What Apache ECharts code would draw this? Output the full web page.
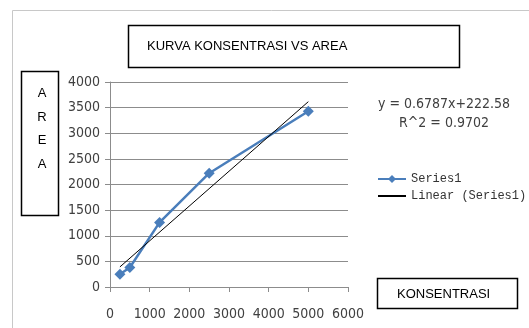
<!DOCTYPE html>
<html>
<head>
<meta charset="utf-8">
<script src="https://cdn.jsdelivr.net/npm/echarts@6/dist/echarts.min.js"></script>
<style>
  html, body { margin: 0; padding: 0; background: #fff; }
  #chart { width: 529px; height: 328px; }
</style>
</head>
<body>
<div id="chart"></div>
<script>
// measured points (konsentrasi vs area)
const konsentrasi = [250, 500, 1250, 2500, 5000];
const area = [250, 380, 1260, 2220, 3430];
// linear trendline end points
const trendX = [250, 5000];
const trendY = [392, 3616];
const equationText = "y = 0.6787x+222.58";
const r2Text = "R^2 = 0.9702";

const boxFont = "Liberation Sans";
const numFont = "DejaVu Sans Condensed";

const myChart = echarts.init(document.getElementById("chart"));

const option = {
  animation: false,
  backgroundColor: "#fff",
  grid: { left: 110, right: 181, top: 82, bottom: 41 },
  legend: {
    orient: "vertical",
    left: 372,
    top: 168,
    itemWidth: 28,
    itemHeight: 10,
    itemGap: 5,
    textStyle: { fontFamily: "Liberation Mono", fontSize: 12, color: "#333" },
    data: ["Series1", { name: "Linear (Series1)", itemStyle: { opacity: 0 } }],
  },
  xAxis: {
    type: "value",
    min: 0,
    max: 6000,
    interval: 1000,
    axisLine: { lineStyle: { color: "#8c8c8c" } },
    axisTick: { show: true, length: 5, lineStyle: { color: "#8c8c8c" } },
    axisLabel: { color: "#404040", fontFamily: numFont, fontSize: 14, margin: 20, formatter: (v) => String(v) },
    splitLine: { show: false },
  },
  yAxis: {
    type: "value",
    min: 0,
    max: 4000,
    interval: 500,
    axisLine: { show: true, lineStyle: { color: "#8c8c8c" } },
    axisTick: { show: true, length: 5, lineStyle: { color: "#8c8c8c" } },
    axisLabel: { color: "#404040", fontFamily: numFont, fontSize: 14, margin: 10, formatter: (v) => String(v) },
    splitLine: { lineStyle: { color: "#8c8c8c" } },
  },
  series: [
    {
      name: "Series1",
      type: "line",
      symbol: "diamond",
      symbolSize: 11,
      lineStyle: { color: "#4a7ebb", width: 2.5 },
      itemStyle: { color: "#4a7ebb" },
      data: konsentrasi.map((x, i) => [x, area[i]]),
    },
    {
      name: "Linear (Series1)",
      type: "line",
      symbol: "none",
      lineStyle: { color: "#000", width: 1 },
      itemStyle: { color: "#000" },
      data: trendX.map((x, i) => [x, trendY[i]]),
    },
  ],
  graphic: [
    {
      type: "rect",
      shape: { x: 12.5, y: 10.5, width: 600, height: 400 },
      style: { fill: "none", stroke: "#c8c8c8", lineWidth: 1 },
    },
    {
      type: "rect",
      shape: { x: 128.5, y: 25.5, width: 331, height: 42 },
      style: { fill: "#fff", stroke: "#000", lineWidth: 1.5 },
    },
    {
      type: "text",
      x: 147,
      y: 46,
      style: { text: "KURVA KONSENTRASI VS AREA", font: "13px " + boxFont, fill: "#000", verticalAlign: "middle" },
    },
    {
      type: "rect",
      shape: { x: 21.5, y: 71.5, width: 37, height: 144 },
      style: { fill: "#fff", stroke: "#000", lineWidth: 1.5 },
    },
    {
      type: "text",
      x: 42,
      y: 82,
      style: { text: "A\nR\nE\nA", font: "13px " + boxFont, fill: "#000", align: "center", lineHeight: 23.5 },
    },
    {
      type: "rect",
      shape: { x: 377.5, y: 278.5, width: 140, height: 30 },
      style: { fill: "#fff", stroke: "#000", lineWidth: 1.5 },
    },
    {
      type: "text",
      x: 397,
      y: 294,
      style: { text: "KONSENTRASI", font: "13px " + boxFont, fill: "#000", verticalAlign: "middle" },
    },
    {
      type: "text",
      x: 444,
      y: 95,
      style: { text: equationText + "\n" + r2Text, font: "14px " + numFont, fill: "#404040", align: "center", verticalAlign: "top", lineHeight: 19 },
    },
  ],
};

myChart.setOption(option);
</script>
</body>
</html>
